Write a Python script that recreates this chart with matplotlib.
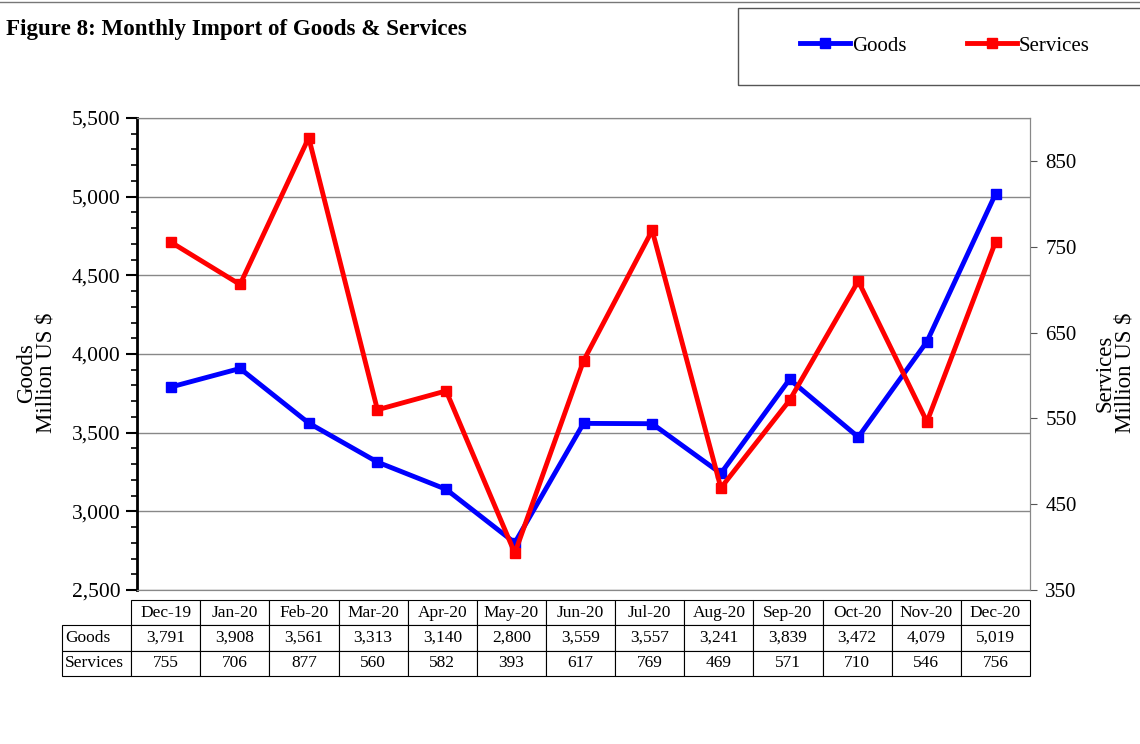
import matplotlib.pyplot as plt
from matplotlib.patches import Rectangle
from matplotlib.lines import Line2D
from matplotlib.ticker import MultipleLocator, FuncFormatter

plt.rcParams['font.family'] = ['Liberation Serif', 'DejaVu Serif']

months = ["Dec-19", "Jan-20", "Feb-20", "Mar-20", "Apr-20", "May-20", "Jun-20",
          "Jul-20", "Aug-20", "Sep-20", "Oct-20", "Nov-20", "Dec-20"]
goods = [3791, 3908, 3561, 3313, 3140, 2800, 3559, 3557, 3241, 3839, 3472, 4079, 5019]
services = [755, 706, 877, 560, 582, 393, 617, 769, 469, 571, 710, 546, 756]

fig = plt.figure(figsize=(11.4, 7.44), dpi=100)
ax = fig.add_axes([137/1140, 1-590/744, (1030-137)/1140, (590-118)/744])
ax2 = ax.twinx()

x = range(len(months))
ax.plot(x, goods, color='#0000ff', lw=3.5, marker='s', ms=7, zorder=3)
ax2.plot(x, services, color='#ff0000', lw=3.5, marker='s', ms=7, zorder=3)

ax.set_xlim(-0.5, len(months) - 0.5)
ax.set_ylim(2500, 5500)
ax2.set_ylim(350, 900)

ax.yaxis.set_major_locator(MultipleLocator(500))
ax.yaxis.set_minor_locator(MultipleLocator(100))
ax.yaxis.set_major_formatter(FuncFormatter(lambda v, p: f"{int(v):,}"))
ax.tick_params(axis='y', which='major', length=8, width=1.5, labelsize=15.5, pad=4)
ax.tick_params(axis='y', which='minor', length=4, width=1.2)
ax.set_xticks([])
ax.grid(axis='y', color='#888888', lw=1)

ax2.set_yticks([350, 450, 550, 650, 750, 850])
ax2.tick_params(axis='y', length=5, width=0.8, color='#555555', labelsize=15, pad=6)
ax2.set_xticks([])

ax.spines['left'].set_linewidth(2)
for s in ['top', 'right', 'bottom']:
    ax.spines[s].set_color('#888888')
    ax2.spines[s].set_color('#888888')
ax2.spines['left'].set_visible(False)

ax.set_ylabel("Goods\nMillion US $", fontsize=16.5, linespacing=0.95)
ax.yaxis.set_label_coords(-80/893, 0.46)
ax2.set_ylabel("Services\nMillion US $", fontsize=16.5, linespacing=0.95)
ax2.yaxis.set_label_coords(1 + 64/893, 0.46)

cell_text = [[""] + months, ["Goods"] + [f"{v:,}" for v in goods],
             ["Services"] + [str(v) for v in services]]
tbl = ax.table(cellText=cell_text, cellLoc='center',
               bbox=[-75/893, -86/472, 1 + 75/893, 76/472])
tbl.auto_set_font_size(False)
tbl.set_fontsize(12.5)
for (r, c), cell in tbl.get_celld().items():
    cell.set_linewidth(0.8)
    if c == 0:
        cell.set_text_props(ha='left')
        cell.PAD = 0.04
    if r == 0 and c == 0:
        cell.visible_edges = ''

fig.text(6/1140, 1-30/744, "Figure 8: Monthly Import of Goods & Services",
         fontsize=16.6, fontweight='bold', va='center', ha='left')

fig.add_artist(Line2D([0, 1], [1-2/744, 1-2/744], color='#777777', lw=1))
fig.add_artist(Rectangle((738/1140, 1-85/744), 410/1140, 77/744, fill=False,
                         edgecolor='#555555', lw=1, transform=fig.transFigure))
handles = [Line2D([], [], color='#0000ff', lw=3.5, marker='s', ms=7),
           Line2D([], [], color='#ff0000', lw=3.5, marker='s', ms=7)]
fig.legend(handles, ["Goods", "Services"], loc='center', ncol=2,
           bbox_to_anchor=(945/1140, 1-46/744), frameon=False, fontsize=15,
           handlelength=2.4, handletextpad=0.1, columnspacing=2.9)

fig.savefig("out.png", dpi=100)
